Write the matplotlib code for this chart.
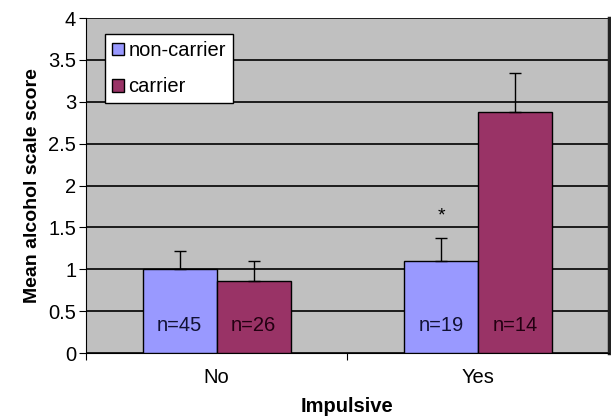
import numpy as np
import matplotlib.pyplot as plt

plt.rcParams['font.family'] = ['Liberation Sans', 'DejaVu Sans']

# datos
categorias = ['No', 'Yes']
grupos = ['non-carrier', 'carrier']
medias_no_portador = [1.0, 1.10]
medias_portador = [0.86, 2.88]
error_no_portador = [0.22, 0.27]
error_portador = [0.24, 0.46]
n_no_portador = ['n=45', 'n=19']
n_portador = ['n=26', 'n=14']

colores = ['#9999FF', '#993366']

fig = plt.figure(figsize=(6.11, 4.2), dpi=100)
ax = fig.add_axes([0.1407, 0.1595, 0.856, 0.7975])
ax.set_facecolor('#C0C0C0')

x = np.arange(len(categorias))
ancho = 0.283

ax.bar(x - ancho/2, medias_no_portador, ancho, color=colores[0], edgecolor='black',
       linewidth=1, label=grupos[0], zorder=3)
ax.bar(x + ancho/2, medias_portador, ancho, color=colores[1], edgecolor='black',
       linewidth=1, label=grupos[1], zorder=3)

# barras de error solo hacia arriba
ax.errorbar(x - ancho/2, medias_no_portador, yerr=[np.zeros(2), error_no_portador],
            fmt='none', ecolor='black', elinewidth=1, capsize=4.5, capthick=1, zorder=4)
ax.errorbar(x + ancho/2, medias_portador, yerr=[np.zeros(2), error_portador],
            fmt='none', ecolor='black', elinewidth=1, capsize=4.5, capthick=1, zorder=4)

for i in range(len(categorias)):
    ax.text(x[i] - ancho/2, 0.33, n_no_portador[i], ha='center', va='center',
            fontsize=14.5, color='#111133', zorder=5)
    ax.text(x[i] + ancho/2, 0.33, n_portador[i], ha='center', va='center',
            fontsize=14.5, color='#220011', zorder=5)

# asterisco de significancia
ax.text(x[1] - ancho/2, 1.64, '*', ha='center', va='center', fontsize=14, zorder=5)

ax.set_xlim(-0.5, 1.5)
ax.set_ylim(0, 4)
ax.set_yticks(np.arange(0, 4.01, 0.5))
ax.set_yticklabels(['0', '0.5', '1', '1.5', '2', '2.5', '3', '3.5', '4'])
ax.yaxis.grid(True, color='black', linewidth=1.2, zorder=1)
ax.set_axisbelow(True)

# ticks del eje x en los limites de categoria
ax.set_xticks([-0.5, 0.5])
ax.set_xticklabels([])
ax.set_xticks(x, minor=True)
ax.set_xticklabels(categorias, minor=True)
ax.tick_params(axis='x', which='minor', length=0, pad=11, labelsize=14.5)
ax.tick_params(axis='x', which='major', length=5, direction='out')
ax.tick_params(axis='y', length=5, direction='out', labelsize=14.5, pad=2)

ax.spines['top'].set_visible(False)
ax.spines['right'].set_linewidth(2.5)
ax.spines['right'].set_color('#222222')

ax.set_xlabel('Impulsive', fontsize=14.5, fontweight='bold', labelpad=7)
ax.set_ylabel('Mean alcohol scale score', fontsize=14, fontweight='bold', labelpad=5)

leg = ax.legend(loc='upper left', bbox_to_anchor=(0.025, 0.97), fontsize=14.5,
                frameon=True, fancybox=False, edgecolor='black', framealpha=1,
                handlelength=0.6, handleheight=0.6, handletextpad=0.2,
                borderpad=0.35, labelspacing=0.85, borderaxespad=0.3)
leg.get_frame().set_linewidth(1)

plt.savefig('out.png', dpi=100)
